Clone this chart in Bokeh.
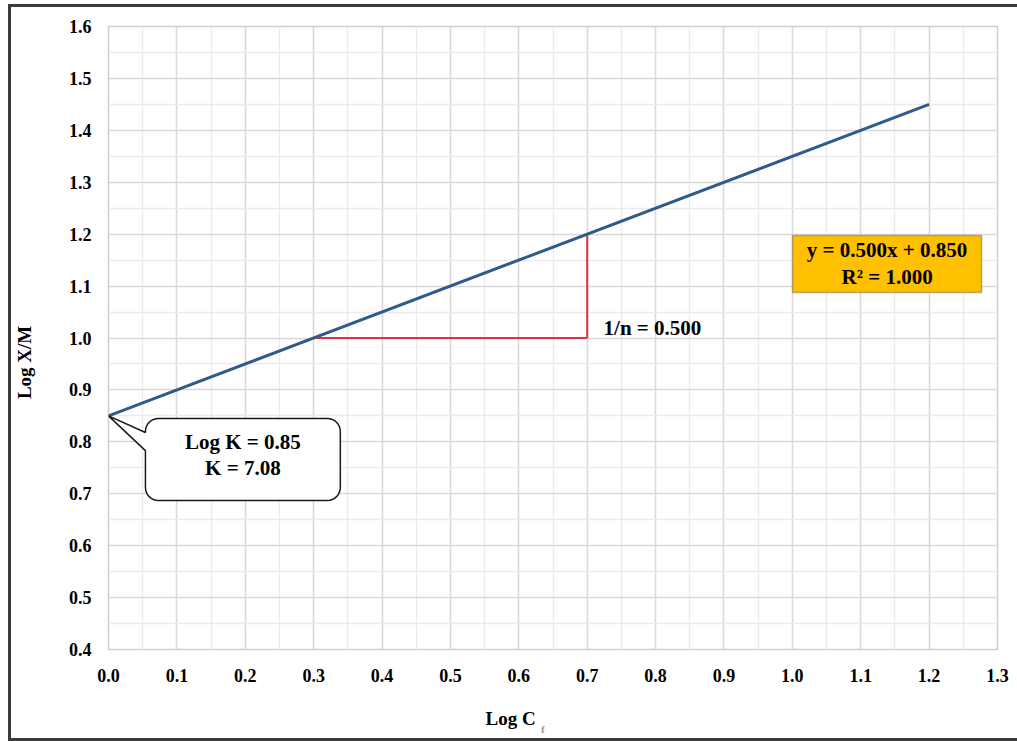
import math
from bokeh.plotting import figure
from bokeh.models import (FixedTicker, PrintfTickFormatter, Label, BoxAnnotation,
                          LinearAxis)
from bokeh.embed import file_html
from bokeh.resources import INLINE

# Freundlich isotherm, linear form: log(x/m) vs log(Cf)
log_cf = [0.0, 0.3, 0.7, 1.2]
log_xm = [0.85, 1.00, 1.20, 1.45]

slope_txt = "1/n = 0.500"
fit_lines = ["y = 0.500x + 0.850", "R\u00b2 = 1.000"]
k_lines = ["Log K = 0.85", "K = 7.08"]

x_ticks = [0.0, 0.1, 0.2, 0.3, 0.4, 0.5, 0.6, 0.7, 0.8, 0.9, 1.0, 1.1, 1.2, 1.3]
y_ticks = [0.4, 0.5, 0.6, 0.7, 0.8, 0.9, 1.0, 1.1, 1.2, 1.3, 1.4, 1.5, 1.6]
x_minor = [0.05, 0.15, 0.25, 0.35, 0.45, 0.55, 0.65, 0.75, 0.85, 0.95, 1.05, 1.15, 1.25]
y_minor = [0.45, 0.55, 0.65, 0.75, 0.85, 0.95, 1.05, 1.15, 1.25, 1.35, 1.45, 1.55]

FONT = "Liberation Serif"
W, H = 1006, 731
ML, MR, MT, MB = 97, 20, 19, 89
X0, X1, Y0, Y1 = 0.0, 1.3, 0.4, 1.6

p = figure(width=W, height=H, x_range=(X0, X1), y_range=(Y0, Y1),
           output_backend="svg", toolbar_location=None,
           min_border_left=ML, min_border_right=MR,
           min_border_top=MT, min_border_bottom=MB)
# dark frame drawn just outside the chart canvas
p.margin = (7, 0, 0, 11)
p.styles = {"outline": "3px solid #3a3a3a"}
p.background_fill_color = "white"
p.border_fill_color = "white"
p.outline_line_color = "#cfcfcf"
p.outline_line_width = 1.5

p.xaxis.ticker = FixedTicker(ticks=x_ticks, minor_ticks=x_minor)
p.yaxis.ticker = FixedTicker(ticks=y_ticks, minor_ticks=y_minor)


def plain(ax):
    ax.axis_line_color = None
    ax.major_tick_line_color = None
    ax.minor_tick_line_color = None
    ax.major_tick_out = 0
    ax.major_tick_in = 0
    ax.minor_tick_out = 0
    ax.minor_tick_in = 0
    ax.major_label_text_font = FONT
    ax.major_label_text_font_style = "bold"
    ax.major_label_text_color = "black"


for ax in (p.xaxis, p.yaxis):
    plain(ax)
    ax.formatter = PrintfTickFormatter(format="%.1f")
    ax.major_label_text_font_size = "18px"
p.xaxis.major_label_standoff = 19
p.yaxis.major_label_standoff = 17

for g in (p.xgrid, p.ygrid):
    g.grid_line_color = "#d9d9d9"
    g.grid_line_width = 1.6
    g.minor_grid_line_color = "#ebebeb"
    g.minor_grid_line_width = 1.4

# axis titles, placed as single-label axes
x_title_pos = 0.588
x_sub_pos = 0.635
y_title_pos = 0.953

xt = LinearAxis(ticker=FixedTicker(ticks=[x_title_pos]),
                major_label_overrides={x_title_pos: "Log C"})
plain(xt)
xt.major_label_text_font_size = "19px"
xt.major_label_standoff = 23
p.add_layout(xt, "below")

xs = LinearAxis(ticker=FixedTicker(ticks=[x_sub_pos]),
                major_label_overrides={x_sub_pos: "f"})
plain(xs)
xs.major_label_text_font_size = "11px"
xs.major_label_text_color = "#9a9a9a"
xs.major_label_standoff = -9
p.add_layout(xs, "below")

yt = LinearAxis(ticker=FixedTicker(ticks=[y_title_pos]),
                major_label_overrides={y_title_pos: "Log X/M"},
                major_label_orientation="vertical")
plain(yt)
yt.major_label_text_font_size = "19px"
yt.major_label_standoff = 30
p.add_layout(yt, "left")

# pixel-per-unit scales of the frame
sx = (W - ML - MR) / (X1 - X0)
sy = (H - MT - MB) / (Y1 - Y0)

# slope triangle
p.line([log_cf[1], log_cf[2]], [log_xm[1], log_xm[1]], line_color="#d9343f", line_width=2)
p.line([log_cf[2], log_cf[2]], [log_xm[1], log_xm[2]], line_color="#d9343f", line_width=2)

# fitted line
p.line([log_cf[0], log_cf[-1]], [log_xm[0], log_xm[-1]], line_color="#2e5b88", line_width=3)

# callout bubble pointing at the intercept
bx0, bx1, by0, by1 = 0.054, 0.339, 0.687, 0.845
r = 13.0
rx, ry = r / sx, r / sy
att_hi, att_lo = 0.818, 0.783


def arc(cx, cy, a0, a1, n=8):
    pts = []
    for i in range(n + 1):
        a = math.radians(a0 + (a1 - a0) * i / n)
        pts.append((cx + rx * math.cos(a), cy + ry * math.sin(a)))
    return pts


pts = [(bx0, by1 - ry), (bx0, att_hi), (log_cf[0], log_xm[0]), (bx0, att_lo), (bx0, by0 + ry)]
pts += arc(bx0 + rx, by0 + ry, 180, 270)
pts += arc(bx1 - rx, by0 + ry, 270, 360)
pts += arc(bx1 - rx, by1 - ry, 0, 90)
pts += arc(bx0 + rx, by1 - ry, 90, 180)
p.patch([q[0] for q in pts], [q[1] for q in pts], fill_color="white",
        line_color="#1a1a1a", line_width=1.5)

for txt, yy in zip(k_lines, [0.799, 0.749]):
    p.add_layout(Label(x=(bx0 + bx1) / 2, y=yy, text=txt, text_align="center",
                       text_baseline="middle", text_font=FONT, text_font_style="bold",
                       text_font_size="21px", text_color="black"))

# regression equation box
p.add_layout(BoxAnnotation(left=1.0003, right=1.2767, bottom=1.0877, top=1.1975,
                           fill_color="#ffc000", fill_alpha=1.0,
                           line_color="#222222", line_width=1.5))
for txt, yy in zip(fit_lines, [1.1686, 1.1166]):
    p.add_layout(Label(x=1.1385, y=yy, text=txt, text_align="center",
                       text_baseline="middle", text_font=FONT, text_font_style="bold",
                       text_font_size="21px", text_color="black"))

p.add_layout(Label(x=0.724, y=1.0183, text=slope_txt, text_align="left",
                   text_baseline="middle", text_font=FONT, text_font_style="bold",
                   text_font_size="21px", text_color="black"))

open("out.html", "w").write(file_html(p, INLINE))
